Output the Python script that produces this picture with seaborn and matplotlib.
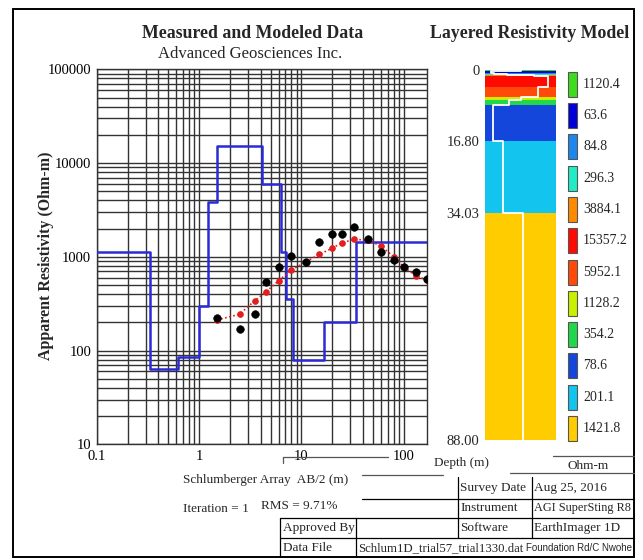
import numpy as np
import pandas as pd
import matplotlib
matplotlib.use("Agg")
import matplotlib.pyplot as plt
import seaborn as sns
from matplotlib.lines import Line2D
from matplotlib.ticker import LogLocator, NullFormatter, FixedLocator

# ---------------- data ----------------
ab2 = [1.5, 2.5, 3.5, 4.5, 6, 8, 11, 15, 20, 25, 33, 45, 60, 80, 100, 132, 168]
measured = [224, 169, 244, 535, 784, 1012, 874, 1438, 1750, 1750, 2080, 1560, 1133, 918, 784, 693, 575]
modeled = [212, 244, 340, 421, 556, 723, 880, 1063, 1233, 1413, 1537, 1500, 1303, 1002, 784, 624, 566]

layer_res = [1120.4, 63.6, 84.8, 296.3, 3884.1, 15357.2, 5952.1, 1128.2, 354.2, 78.6, 201.1, 1421.8]
layer_bottom = [0.33, 0.62, 0.99, 1.23, 1.49, 4.16, 6.34, 7.04, 8.36, 16.80, 34.03, 88.00]
layer_colors = ["#3fdc1e", "#0000d8", "#1f86ec", "#22ecc8", "#ff8a00", "#ff0a00",
                "#ff4a0a", "#c8f000", "#22d84a", "#1446dc", "#12c4ee", "#ffcc00"]
depth_ticks = [0, 16.80, 34.03, 88.00]
depth_labels = ["0", "16.80", "34.03", "88.00"]
y_ticks = [10, 100, 1000, 10000, 100000]
y_labels = ["10", "100", "1000", "10000", "100000"]
x_ticks = [0.1, 1, 10, 100]
x_labels = ["0.1", "1", "10", "100"]

X_MIN, X_MAX = 0.1, 168
COL_XMIN, COL_XMAX = 36, 33000

# ---------------- setup ----------------
sns.set_theme(style="white")
plt.rcParams["font.family"] = ["Liberation Serif", "DejaVu Serif"]

W, H = 643, 560
fig = plt.figure(figsize=(W / 100, H / 100), dpi=100)
fig.patch.set_facecolor("white")


def rect(l, t, r, b):
    return [l / W, 1 - b / H, (r - l) / W, (b - t) / H]


def fx(x):
    return x / W


def fy(y):
    return 1 - y / H


def hline(x0, x1, y, lw=1.0, color="black"):
    fig.add_artist(Line2D([fx(x0), fx(x1)], [fy(y), fy(y)], color=color, lw=lw))


def vline(x, y0, y1, lw=1.0, color="black"):
    fig.add_artist(Line2D([fx(x), fx(x)], [fy(y0), fy(y1)], color=color, lw=lw))


def ftext(x, y, s, **kw):
    fig.text(fx(x), fy(y), s, **kw)


# ---------------- main chart ----------------
ax = fig.add_axes(rect(96.7, 69.3, 426.7, 444.3))
ax.set_xscale("log")
ax.set_yscale("log")

edges = [X_MIN] + layer_bottom[:-1] + [X_MAX]
step_vals = layer_res + [layer_res[-1]]
model_df = pd.DataFrame({"x": edges, "y": step_vals})
sns.lineplot(data=model_df, x="x", y="y", drawstyle="steps-post", color="#2b2bd6",
             lw=1.8, ax=ax, sort=False, estimator=None, zorder=3)

calc_df = pd.DataFrame({"x": ab2, "y": modeled})
sns.lineplot(data=calc_df, x="x", y="y", color="#e41e1e", linestyle=(0, (1, 1.5)), lw=1.2,
             marker="o", markersize=4, markeredgecolor="#e41e1e", ax=ax, zorder=4)

meas_df = pd.DataFrame({"x": ab2, "y": measured})
sns.scatterplot(data=meas_df, x="x", y="y", color="black", s=30, edgecolor="black",
                ax=ax, zorder=5)

ax.set_xlim(X_MIN, X_MAX)
ax.set_ylim(10, 100000)
ax.xaxis.set_major_locator(FixedLocator(x_ticks))
ax.set_xticklabels(x_labels)
ax.yaxis.set_major_locator(FixedLocator(y_ticks))
ax.set_yticklabels(y_labels)
ax.xaxis.set_minor_locator(LogLocator(base=10, subs=np.arange(2, 10)))
ax.yaxis.set_minor_locator(LogLocator(base=10, subs=np.arange(2, 10)))
ax.xaxis.set_minor_formatter(NullFormatter())
ax.yaxis.set_minor_formatter(NullFormatter())
ax.grid(True, which="both", color="#333333", lw=1.0)
ax.tick_params(which="both", length=0, labelsize=10.5, colors="black", pad=4)
for sp in ax.spines.values():
    sp.set_color("#333333")
    sp.set_linewidth(1.0)
ax.set_xlabel("")
ax.set_ylabel("")

# ---------------- layered column ----------------
cax = fig.add_axes(rect(485, 70, 556, 440))
cax.set_xscale("log")
tops = [0] + layer_bottom[:-1]
thick = list(np.diff([0] + layer_bottom))
cax.barh(y=tops, width=COL_XMAX - COL_XMIN, left=COL_XMIN, height=thick, align="edge",
         color=layer_colors, lw=0)
wx, wy = [], []
for r, t, b in zip(layer_res, tops, layer_bottom):
    wx += [r, r]
    wy += [t, b]
cax.plot(wx, wy, color="white", lw=1.3)
cax.set_xlim(COL_XMIN, COL_XMAX)
cax.set_ylim(88, 0)
cax.set_xticks([])
cax.set_yticks(depth_ticks)
cax.set_yticklabels(depth_labels)
cax.tick_params(axis="y", length=0, labelsize=10.5, pad=4)
for sp in cax.spines.values():
    sp.set_visible(False)

# ---------------- legend ----------------
lax = fig.add_axes(rect(560, 60, 640, 450))
lax.set_xlim(560, 640)
lax.set_ylim(450, 60)
lax.axis("off")
for i, (val, col) in enumerate(zip(layer_res, layer_colors)):
    top = 71.7 + 31.3 * i
    lax.bar(x=568, width=9, bottom=top, height=25, align="edge", color=col,
            edgecolor="#555555", lw=0.8)
    lax.text(583, top + 12.5, f"{val:.1f}", fontsize=10, va="center", ha="left")

# ---------------- titles ----------------
ftext(253, 33, "Measured and Modeled Data", fontsize=12.8, fontweight="bold", ha="center", va="center")
ftext(250, 54, "Advanced Geosciences Inc.", fontsize=12, ha="center", va="center")
ftext(530, 33, "Layered Resistivity Model", fontsize=12.8, fontweight="bold", ha="center", va="center")
ftext(46, 256, "Apparent Resistivity (Ohm-m)", fontsize=11.5, fontweight="bold", rotation=90,
      ha="center", va="center")

# ---------------- bottom texts ----------------
fs = 9.5
ftext(462, 463, "Depth (m)", fontsize=fs, ha="center", va="center")
ftext(588, 466, "Ohm-m", fontsize=fs, ha="center", va="center")
ftext(183, 480, "Schlumberger Array  AB/2 (m)", fontsize=fs, ha="left", va="center")
ftext(183, 509, "Iteration = 1", fontsize=fs, ha="left", va="center")
ftext(261, 506, "RMS = 9.71%", fontsize=fs, ha="left", va="center")
ftext(460, 488, "Survey Date", fontsize=fs, ha="left", va="center")
ftext(534, 488, "Aug 25, 2016", fontsize=fs, ha="left", va="center")
ftext(460, 508, "Instrument", fontsize=fs, ha="left", va="center")
ftext(534, 508, "AGI SuperSting R8", fontsize=8.8, ha="left", va="center")
ftext(283, 528, "Approved By", fontsize=fs, ha="left", va="center")
ftext(460, 528, "Software", fontsize=fs, ha="left", va="center")
ftext(534, 528, "EarthImager 1D", fontsize=fs, ha="left", va="center")
ftext(283, 548, "Data File", fontsize=fs, ha="left", va="center")
ftext(358, 548, "Schlum1D_trial57_trial1330.dat", fontsize=9.2, ha="left", va="center")
ftext(526, 548, "Foundation Rd/C Nwohe", fontsize=7, ha="left", va="center", family="Liberation Sans")

# ---------------- frame & table lines ----------------
hline(13, 634, 9, lw=1.4)
hline(13, 634, 557, lw=1.4)
vline(13, 9, 557, lw=1.4)
vline(634, 9, 557, lw=1.4)

hline(283, 388, 457, lw=0.9, color="#555555")
vline(283, 457, 463, lw=0.9, color="#555555")
hline(553, 634, 456, lw=0.9, color="#555555")
hline(362, 443, 475, lw=0.9, color="#555555")
hline(510, 634, 473, lw=0.9, color="#555555")
hline(362, 634, 499, lw=0.9)
hline(280, 634, 518, lw=0.9)
hline(280, 634, 538, lw=0.9)
vline(280, 518, 557, lw=0.9)
vline(356, 518, 557, lw=0.9)
vline(458, 477, 538, lw=0.9)
vline(532, 477, 538, lw=0.9)

fig.savefig("out.png", dpi=100, facecolor="white")
